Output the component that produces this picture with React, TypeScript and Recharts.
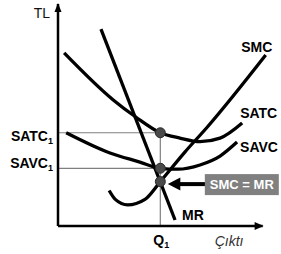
import React from "react";
import {
  Line,
  LineChart,
  ReferenceDot,
  ReferenceLine,
  XAxis,
  YAxis,
} from "recharts";

// short-run cost curves (Q on x, TL on y)
const smcQ = [25, 28, 34, 42.5, 50, 62, 73, 101.5];
const smcTL = [16, 12, 9.5, 12, 20, 33.3, 44.6, 77];
const satcQ = [3, 27, 38, 50, 59.6, 69.4, 79.2, 90];
const satcTL = [78, 56.8, 49.1, 42, 39.6, 38, 39.6, 46.4];
const savcQ = [4, 25.4, 40, 50, 58.6, 69.4, 79.2, 87.5];
const savcTL = [42, 32.9, 28.8, 26, 25.6, 27.5, 31.5, 37.8];
const mrQ = [21, 57.2];
const mrTL = [88.7, 2.7];

const q1 = 50;
const satc1 = 42;
const savc1 = 26;
const eqTL = 20;

const yTicks = [savc1, satc1];
const yTickLabels = ["SAVC", "SATC"];
const xTicks = [q1];
const xTickLabels = ["Q"];

const font = "'Liberation Sans', Arial, sans-serif";

const pts = (q: number[], tl: number[]) => q.map((x, i) => ({ x, y: tl[i] }));

const curves = [
  { name: "SMC", data: pts(smcQ, smcTL), dx: -9, dy: -3, anchor: "middle" },
  { name: "SATC", data: pts(satcQ, satcTL), dx: -2, dy: -5, anchor: "start" },
  { name: "SAVC", data: pts(savcQ, savcTL), dx: 3, dy: 10, anchor: "start" },
  { name: "MR", data: pts(mrQ, mrTL), dx: 7, dy: 0, anchor: "start" },
];

const YTick = (props: any) => {
  const { x, y, payload } = props;
  const i = yTicks.indexOf(payload.value);
  const shift = payload.value === satc1 ? 8 : 0;
  return (
    <text
      x={x - 5}
      y={y + shift}
      textAnchor="end"
      fontFamily={font}
      fontWeight="bold"
      fontSize={14}
      fill="#000"
    >
      {yTickLabels[i]}
      <tspan fontSize={9} dy={3}>
        1
      </tspan>
    </text>
  );
};

const XTick = (props: any) => {
  const { x, y, payload } = props;
  const i = xTicks.indexOf(payload.value);
  return (
    <text
      x={x + 1}
      y={y + 19}
      textAnchor="middle"
      fontFamily={font}
      fontWeight="bold"
      fontSize={14}
      fill="#000"
    >
      {xTickLabels[i]}
      <tspan fontSize={9} dy={3}>
        1
      </tspan>
    </text>
  );
};

const point = { r: 5, fill: "#4a4a4a", stroke: "#2a2a2a", strokeWidth: 1 };
const guide = { stroke: "#808080", strokeWidth: 1.2 };

export default function App() {
  return (
    <div style={{ position: "absolute", left: 0, top: 0 }}>
      <LineChart
        width={281}
        height={254}
        margin={{ top: 4, right: 2, bottom: 0, left: 0 }}
        style={{ fontFamily: font }}
      >
        <XAxis
          type="number"
          dataKey="x"
          domain={[0, 108]}
          ticks={xTicks}
          height={28}
          axisLine={false}
          tickLine={false}
          tickSize={0}
          tickMargin={0}
          tick={<XTick />}
        />
        <YAxis
          type="number"
          domain={[0, 100]}
          ticks={yTicks}
          width={58}
          axisLine={false}
          tickLine={false}
          tickSize={0}
          tickMargin={0}
          tick={<YTick />}
        />

        <ReferenceLine segment={[{ x: 0, y: satc1 }, { x: q1, y: satc1 }]} {...guide} />
        <ReferenceLine segment={[{ x: 0, y: savc1 }, { x: q1, y: savc1 }]} {...guide} />
        <ReferenceLine segment={[{ x: q1, y: 0 }, { x: q1, y: satc1 }]} {...guide} />

        {curves.map((c) => (
          <Line
            key={c.name}
            data={c.data}
            dataKey="y"
            type="monotone"
            stroke="#000"
            strokeWidth={3.3}
            dot={false}
            activeDot={false}
            isAnimationActive={false}
          />
        ))}

        <ReferenceLine segment={[{ x: 0, y: 0 }, { x: 0, y: 100 }]} stroke="#000" strokeWidth={2.5} />
        <ReferenceLine segment={[{ x: 0, y: 0 }, { x: 100, y: 0 }]} stroke="#000" strokeWidth={2.5} />

        {/* axis arrows + axis titles */}
        <ReferenceDot
          x={0}
          y={100}
          r={1}
          ifOverflow="visible"
          shape={(p: any) => (
            <g>
              <polygon
                points={`${p.cx},${p.cy - 1} ${p.cx - 3.5},${p.cy + 8} ${p.cx + 3.5},${p.cy + 8}`}
                fill="#000"
              />
              <text x={p.cx - 8} y={p.cy + 14} textAnchor="end" fontFamily={font} fontSize={14} fill="#111">
                TL
              </text>
            </g>
          )}
        />
        <ReferenceDot
          x={100}
          y={0}
          r={1}
          ifOverflow="visible"
          shape={(p: any) => (
            <g>
              <polygon
                points={`${p.cx + 1},${p.cy} ${p.cx - 8},${p.cy - 4} ${p.cx - 8},${p.cy + 4}`}
                fill="#000"
              />
              <text
                x={p.cx - 48}
                y={p.cy + 20}
                fontFamily={font}
                fontStyle="italic"
                fontSize={14}
                fill="#333"
              >
                Çıktı
              </text>
            </g>
          )}
        />

        {curves.map((c) => {
          const last = c.data[c.data.length - 1];
          return (
            <ReferenceDot
              key={"lbl" + c.name}
              x={last.x}
              y={last.y}
              r={1}
              ifOverflow="visible"
              shape={(p: any) => (
                <text
                  x={p.cx + c.dx}
                  y={p.cy + c.dy}
                  textAnchor={c.anchor}
                  fontFamily={font}
                  fontWeight="bold"
                  fontSize={14}
                  fill="#000"
                >
                  {c.name}
                </text>
              )}
            />
          );
        })}

        <ReferenceDot x={q1} y={satc1} {...point} />
        <ReferenceDot x={q1} y={savc1} {...point} />
        <ReferenceDot x={q1} y={eqTL} {...point} />

        {/* SMC = MR callout */}
        <ReferenceDot
          x={q1}
          y={eqTL}
          r={1}
          ifOverflow="visible"
          shape={(p: any) => (
            <g>
              <line x1={p.cx + 19} y1={p.cy + 2.5} x2={p.cx + 45} y2={p.cy + 2.5} stroke="#000" strokeWidth={4} />
              <polygon
                points={`${p.cx + 7.5},${p.cy + 2.5} ${p.cx + 20},${p.cy - 4} ${p.cx + 20},${p.cy + 9}`}
                fill="#000"
              />
              <rect x={p.cx + 44.5} y={p.cy - 7.5} width={74} height={21} fill="#808080" />
              <text
                x={p.cx + 81.5}
                y={p.cy + 7.5}
                textAnchor="middle"
                fontFamily={font}
                fontWeight="bold"
                fontSize={13}
                fill="#fff"
              >
                SMC = MR
              </text>
            </g>
          )}
        />
      </LineChart>
    </div>
  );
}
